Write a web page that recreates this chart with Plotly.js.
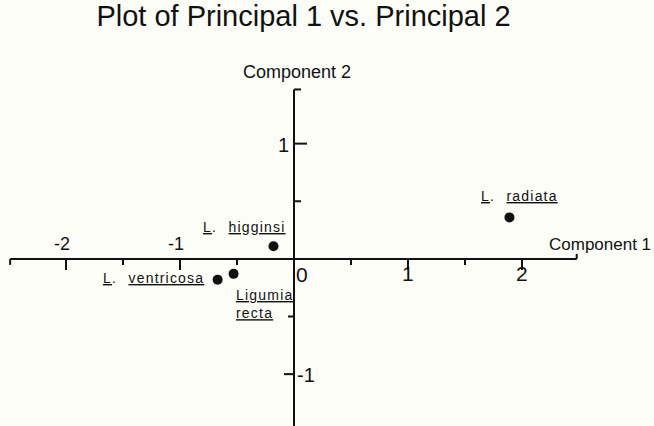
<!DOCTYPE html>
<html>
<head>
<meta charset="utf-8">
<script src="https://cdn.plot.ly/plotly-3.0.1.min.js"></script>
<style>
  html, body { margin: 0; padding: 0; background: #fdfdf8; }
  #chart { width: 654px; height: 426px; }
</style>
</head>
<body>
<div id="chart"></div>
<script>
// Principal component scores of the four mussel species
const species    = ["L. radiata", "L. higginsi", "L. ventricosa", "Ligumia recta"];
const component1 = [1.89, -0.18, -0.67, -0.53];
const component2 = [0.36, 0.11, -0.18, -0.13];

// Axis ticks (axes cross at the origin)
const xMajorTicks  = [-2, -1, 1, 2];
const xMajorLabels = ["-2", "-1", "1", "2"];
const xMinorTicks  = [-1.5, -0.5, 0.5, 1.5];
const yTicks       = [1, 0.5, -0.5, -1];
const yTickLabels  = ["1", "", "", "-1"];

// ---- styling / placement -------------------------------------------------
const INK = "#111111";
const SANS = "Liberation Sans, Arial, Helvetica, sans-serif";
const X_END = [-2.49, 2.48];
const Y_END = [-1.45, 1.47];
const yTickLen = [13, 7, -6, -10];          // + to the right of the axis, - to the left
// label placement relative to its point: [xanchor, xshift, yshift]
const labelPlace = [
  ["center", 10, 21],
  ["right", 15, 19],
  ["right", -12, 2],
  ["left", 0, -30]
];

function underlined(word) {
  return '<span style="text-decoration:underline;text-underline-offset:3px;' +
         'text-decoration-thickness:2px;letter-spacing:1.2px">' + word + '</span>';
}
function spaced(txt) {
  return '<span style="letter-spacing:1.6px">' + txt + '</span>';
}
function labelMarkup(name) {
  const parts = name.split(" ");
  if (parts[0].endsWith(".")) {
    return underlined(parts[0].slice(0, -1)) + spaced(".  ") + underlined(parts[1]);
  }
  return parts.map(underlined).join("<br>");
}

const shapes = [];
const line = (o) => Object.assign({type: "line", xref: "x", yref: "y",
  line: {color: INK, width: 2}}, o);

// axis lines
shapes.push(line({x0: X_END[0], x1: X_END[1], y0: 0, y1: 0}));
shapes.push(line({x0: 0, x1: 0, y0: Y_END[0], y1: Y_END[1]}));
// end hooks
shapes.push(line({x0: X_END[0], x1: X_END[0], ysizemode: "pixel", yanchor: 0, y0: 0, y1: -6}));
shapes.push(line({x0: X_END[1], x1: X_END[1], ysizemode: "pixel", yanchor: 0, y0: 0, y1: 5}));
shapes.push(line({xsizemode: "pixel", xanchor: 0, x0: 0, x1: 7, y0: Y_END[1], y1: Y_END[1]}));
// x ticks (pointing down)
xMajorTicks.forEach(v => shapes.push(line({x0: v, x1: v, ysizemode: "pixel", yanchor: 0, y0: 0, y1: -11})));
xMinorTicks.forEach(v => shapes.push(line({x0: v, x1: v, ysizemode: "pixel", yanchor: 0, y0: 0, y1: -6})));
// y ticks
yTicks.forEach((v, i) => shapes.push(line({xsizemode: "pixel", xanchor: 0, x0: 0, x1: yTickLen[i], y0: v, y1: v})));

const annotations = [];
const note = (o) => Object.assign({xref: "x", yref: "y", showarrow: false,
  font: {family: SANS, size: 20, color: INK}}, o);

// x tick labels: negatives above the axis, positives below
xMajorTicks.forEach((v, i) => {
  const above = v < 0;
  annotations.push(note({x: v, y: 0, text: xMajorLabels[i],
    xshift: above ? -4 : 0, yshift: above ? 15 : -15,
    font: {family: SANS, size: above ? 18 : 21, color: INK}}));
});
annotations.push(note({x: 0, y: 0, text: "0", xshift: 8, yshift: -16,
  font: {family: SANS, size: 21, color: INK}}));
// y tick labels: on the side opposite to the tick
yTicks.forEach((v, i) => {
  if (!yTickLabels[i]) return;
  annotations.push(note({x: 0, y: v, text: yTickLabels[i],
    xshift: v > 0 ? -11 : 12, yshift: -1,
    font: {family: SANS, size: 20, color: INK}}));
});
// axis names
annotations.push(note({x: 0, y: Y_END[1], text: "Component 2", xshift: 3, yshift: 17,
  font: {family: SANS, size: 18, color: INK}}));
annotations.push(note({x: X_END[1], y: 0, text: "Component 1", xanchor: "left", xshift: -30, yshift: 14,
  font: {family: SANS, size: 17, color: INK}}));

// species labels
species.forEach((name, i) => {
  const [xa, xs, ys] = labelPlace[i];
  annotations.push(note({x: component1[i], y: component2[i], text: labelMarkup(name),
    xanchor: xa, xshift: xs, yshift: ys, align: "left",
    font: {family: SANS, size: 14, color: INK}}));
});

const trace = {
  type: "scatter", mode: "markers",
  x: component1, y: component2, text: species,
  marker: {color: INK, size: 10, line: {width: 0}},
  cliponaxis: false, hoverinfo: "text"
};

const layout = {
  width: 654, height: 426,
  margin: {l: 9, r: 75, t: 86, b: 0, pad: 0},
  paper_bgcolor: "#fdfdf8", plot_bgcolor: "#fdfdf8",
  showlegend: false,
  title: {text: "Plot of Principal 1 vs. Principal 2",
    font: {family: SANS, size: 29, color: INK},
    x: 303.5 / 654, xref: "container", xanchor: "center",
    y: 1 - 16 / 426, yref: "container", yanchor: "middle"},
  xaxis: {range: [-2.5, 2.5], visible: false, fixedrange: true},
  yaxis: {range: [-1.45, 1.5], visible: false, fixedrange: true},
  shapes: shapes,
  annotations: annotations
};

Plotly.newPlot("chart", [trace], layout, {displayModeBar: false, staticPlot: true});
</script>
</body>
</html>
